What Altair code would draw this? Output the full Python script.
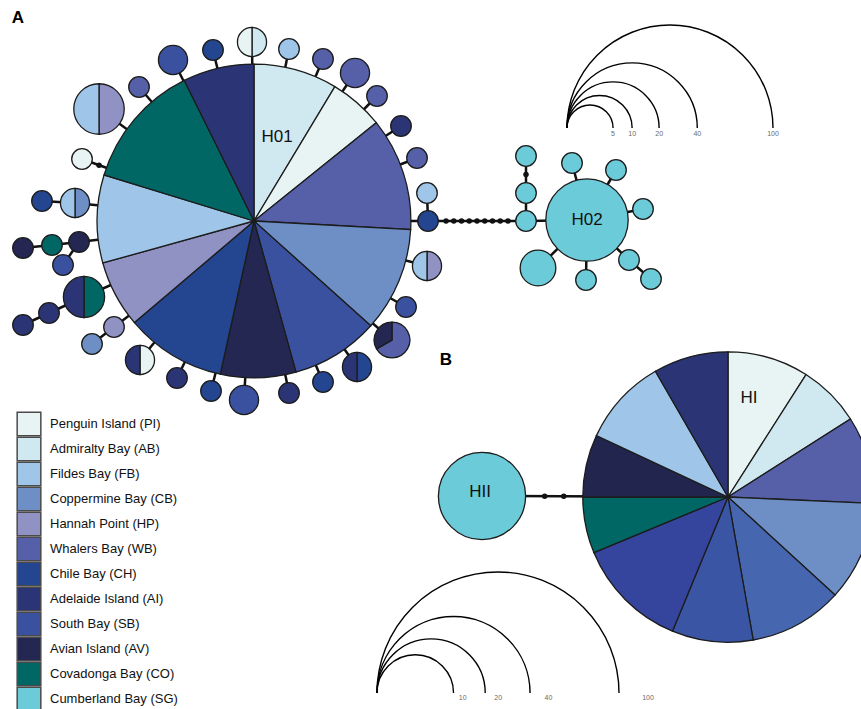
import math
import altair as alt
import pandas as pd

W, H = 861, 709

# ---------------- populations / legend ----------------
POP_CODES = ["PI", "AB", "FB", "CB", "HP", "WB", "CH", "AI", "SB", "AV", "CO", "SG"]
POP_NAMES = ["Penguin Island (PI)", "Admiralty Bay (AB)", "Fildes Bay (FB)",
             "Coppermine Bay (CB)", "Hannah Point (HP)", "Whalers Bay (WB)",
             "Chile Bay (CH)", "Adelaide Island (AI)", "South Bay (SB)",
             "Avian Island (AV)", "Covadonga Bay (CO)", "Cumberland Bay (SG)"]
POP_COLORS = ["#e8f4f4", "#d0e8ef", "#9fc5e8", "#6d8fc6", "#9192c4", "#5560a8",
              "#24458f", "#2b3575", "#3a51a0", "#232752", "#006765", "#6ccbd8"]

# ---------------- panel A haplotypes (composition in individuals) ----------------
A_IDS = ["H01", "n1", "n2", "n3", "n4", "n5", "n6", "n7", "n8", "n9", "n10",
         "n11", "n12", "n13", "n14", "n15", "n16", "n17", "n18", "n19", "n20",
         "n21", "n22", "n23", "n24", "n25", "n26", "n27", "n28", "n29", "n30",
         "n31", "n32", "n33", "n34", "n35",
         "H02", "s1", "s2", "s3", "s4", "s5", "s6", "s7", "s8", "s9", "s10"]
A_COMP = [
    [("AB", 20), ("PI", 13), ("WB", 27), ("CB", 25), ("SB", 21), ("AV", 18),
     ("CH", 24), ("HP", 16), ("FB", 21), ("CO", 30), ("AI", 17)],
    [("AB", 1), ("PI", 1)], [("FB", 1)], [("WB", 1)], [("WB", 2)], [("WB", 1)],
    [("AI", 1)], [("WB", 1)], [("FB", 1)], [("CH", 1)], [("HP", 1), ("FB", 1)],
    [("SB", 1)], [("WB", 2), ("AV", 1)], [("CH", 1), ("AI", 1)], [("CH", 1)],
    [("AI", 1)], [("SB", 2)], [("CH", 1)], [("AI", 1)], [("PI", 1), ("AI", 1)],
    [("HP", 1)], [("CB", 1)], [("CO", 2), ("AI", 2)], [("AI", 1)], [("AI", 1)],
    [("AV", 1)], [("CO", 1)], [("AV", 1)], [("SB", 1)], [("CB", 1), ("FB", 1)],
    [("CH", 1)], [("PI", 1)], [("HP", 3), ("FB", 3)], [("WB", 1)], [("SB", 2)],
    [("CH", 1)],
    [("SG", 16)], [("SG", 1)], [("SG", 1)], [("SG", 1)], [("SG", 1)], [("SG", 1)],
    [("SG", 1)], [("SG", 1)], [("SG", 1)], [("SG", 1)], [("SG", 3)],
]
# network layout (pixel positions of haplotype centres)
A_X = [254, 252, 289, 323, 355, 377, 401, 417, 427, 428, 427,
       406, 392, 357, 323, 289, 244, 211, 177, 140, 114,
       92, 84, 49, 23, 79, 52, 23, 63, 75, 42,
       82, 99, 139, 173, 213,
       587, 526, 526, 526, 572, 616, 643, 629, 651, 586, 538]
A_Y = [221, 42, 49, 59, 73, 96, 126, 158, 193, 221, 266,
       307, 340, 367, 382, 393, 400, 391, 378, 360, 327,
       344, 297, 313, 325, 242, 245, 248, 265, 203, 201,
       159, 109, 87, 60, 50,
       220, 221, 193, 156, 163, 170, 209, 260, 279, 280, 268]

A_EDGE_FROM = ["n1", "n2", "n3", "n4", "n5", "n6", "n7", "n8", "n9", "n10",
               "n11", "n12", "n13", "n14", "n15", "n16", "n17", "n18", "n19", "n20",
               "n21", "n22", "n23", "n24", "n25", "n26", "n27", "n28", "n29", "n30",
               "n31", "n32", "n33", "n34", "n35", "n9",
               "s1", "s2", "s3", "s4", "s5", "s6", "s7", "s8", "s9", "s10"]
A_EDGE_TO = ["H01", "H01", "H01", "H01", "H01", "H01", "H01", "n9", "H01", "H01",
             "H01", "H01", "H01", "H01", "H01", "H01", "H01", "H01", "H01", "H01",
             "n20", "H01", "n22", "n23", "H01", "n25", "n26", "n25", "H01", "n29",
             "H01", "H01", "H01", "H01", "H01", "s1",
             "H02", "s1", "s2", "H02", "H02", "H02", "H02", "s7", "H02", "H02"]
A_EDGE_STEPS = [0, 0, 0, 0, 0, 0, 0, 0, 0, 0,
                0, 0, 0, 0, 0, 0, 0, 0, 0, 0,
                0, 0, 0, 0, 0, 0, 0, 0, 0, 0,
                1, 0, 0, 0, 0, 9,
                0, 0, 1, 0, 0, 0, 0, 0, 0, 0]

# ---------------- panel B haplotypes ----------------
B_CODES = ["PI", "AB", "WB", "CB", "SB", "CH", "HP", "CO", "AV", "FB", "AI", "SG"]
B_COLORS = ["#e8f4f4", "#d0e8ef", "#5560a8", "#6d8fc6", "#4766b0", "#3a55a3",
            "#35449c", "#006765", "#22264e", "#9fc5e8", "#2b3575", "#6ccbd8"]
B_IDS = ["HI", "HII"]
B_COMP = [
    [("PI", 13), ("AB", 10), ("WB", 14), ("CB", 16), ("SB", 15), ("CH", 13),
     ("HP", 18), ("CO", 9), ("AV", 10), ("FB", 14), ("AI", 12)],
    [("SG", 13)],
]
B_X = [728, 482]
B_Y = [497, 496]
B_EDGE_FROM = ["HII"]
B_EDGE_TO = ["HI"]
B_EDGE_STEPS = [2]

# circle-size keys
A_KEY = [5, 10, 20, 40, 100]
B_KEY = [10, 20, 40, 100]

# size scales: radius (px) for 100 individuals
RA, RB = 103, 121


def rad(total, rmax):
    return rmax * math.sqrt(total / 100.0)


def slices(ids, xs, ys, comps, names=None):
    rows = []
    for nid, x, y, comp in zip(ids, xs, ys, comps):
        total = sum(c for _, c in comp)
        acc = 0
        for code, c in comp:
            t0 = 2 * math.pi * acc / total
            acc += c
            t1 = 2 * math.pi * acc / total
            rows.append(dict(id=nid, x=x, y=y, total=total, code=code,
                             name=names[code] if names else code, t0=t0, t1=t1))
    return pd.DataFrame(rows)


def edges(ids, xs, ys, comps, efrom, eto, steps, rmax):
    pos = {i: (x, y, sum(c for _, c in comp)) for i, x, y, comp in zip(ids, xs, ys, comps)}
    erows, drows = [], []
    for a, b, n in zip(efrom, eto, steps):
        xa, ya, ta = pos[a]
        xb, yb, tb = pos[b]
        erows.append(dict(x1=xa, y1=ya, x2=xb, y2=yb))
        if n:
            d = math.hypot(xb - xa, yb - ya)
            ux, uy = (xb - xa) / d, (yb - ya) / d
            s0, s1 = rad(ta, rmax), d - rad(tb, rmax)
            for k in range(1, n + 1):
                s = s0 + (s1 - s0) * k / (n + 1)
                drows.append(dict(x=xa + ux * s, y=ya + uy * s))
    return pd.DataFrame(erows), pd.DataFrame(drows)


name_of = dict(zip(POP_CODES, POP_NAMES))
a_sl = slices(A_IDS, A_X, A_Y, A_COMP, name_of)
b_sl = slices(B_IDS, B_X, B_Y, B_COMP)
a_ed, a_dots = edges(A_IDS, A_X, A_Y, A_COMP, A_EDGE_FROM, A_EDGE_TO, A_EDGE_STEPS, RA)
b_ed, b_dots = edges(B_IDS, B_X, B_Y, B_COMP, B_EDGE_FROM, B_EDGE_TO, B_EDGE_STEPS, RB)
ed = pd.concat([a_ed, b_ed], ignore_index=True)
dots = pd.concat([a_dots, b_dots], ignore_index=True)

a_key = pd.DataFrame(dict(n=A_KEY))
a_key["cx"] = 567 + a_key.n.map(lambda v: rad(v, RA))
a_key["cy"] = 128
a_key["lx"] = 567 + 2 * a_key.n.map(lambda v: rad(v, RA))
a_key["ly"] = 134
b_key = pd.DataFrame(dict(n=B_KEY))
b_key["cx"] = 377 + b_key.n.map(lambda v: rad(v, RB))
b_key["cy"] = 693
b_key["lx"] = 377 + 2.24 * b_key.n.map(lambda v: rad(v, RB))
b_key["ly"] = 698
for k in (a_key, b_key):
    k["t0"] = 1.5 * math.pi
    k["t1"] = 2.5 * math.pi
    k["lab"] = k.n.astype(str)

# legend rows (drawn with the same colour scale)
leg = pd.DataFrame(dict(name=POP_NAMES))
leg["i"] = range(len(leg))
leg["sx"] = 29
leg["tx"] = 50
leg["y"] = 424 + 25 * leg["i"]

labels = pd.DataFrame(dict(
    txt=["H01", "H02", "HI", "HII"],
    x=[277, 587, 749, 480],
    y=[137, 220, 398, 492],
))
panels = pd.DataFrame(dict(txt=["A", "B"], x=[18, 446], y=[18, 360]))

xs = alt.Scale(domain=[0, W], nice=False, zero=False)
ys = alt.Scale(domain=[0, H], nice=False, zero=False, reverse=True)


def X(f):
    return alt.X(f, type="quantitative", scale=xs, axis=None)


def Y(f):
    return alt.Y(f, type="quantitative", scale=ys, axis=None)


FONT = "Liberation Sans"
pop_scale = alt.Scale(domain=POP_NAMES, range=POP_COLORS)

edge_layer = alt.Chart(ed).mark_rule(color="#111111", strokeWidth=2.5).encode(
    x=X("x1"), y=Y("y1"), x2="x2:Q", y2="y2:Q")

dot_layer = alt.Chart(dots).mark_circle(color="#111111", size=30, opacity=1).encode(
    x=X("x"), y=Y("y"))

a_arcs = alt.Chart(a_sl).mark_arc(stroke="#1c1c1c", strokeWidth=1.3).encode(
    x=X("x"), y=Y("y"),
    theta=alt.Theta("t0:Q", scale=None, stack=False), theta2="t1:Q",
    radius=alt.Radius("total:Q", scale=alt.Scale(type="sqrt", domain=[0, 100], range=[0, RA])),
    color=alt.Color("name:N", scale=pop_scale, legend=None),
)

b_arcs = alt.Chart(b_sl).mark_arc(stroke="#1c1c1c", strokeWidth=1.3).encode(
    x=X("x"), y=Y("y"),
    theta=alt.Theta("t0:Q", scale=None, stack=False), theta2="t1:Q",
    radius=alt.Radius("total:Q", scale=alt.Scale(type="sqrt", domain=[0, 100], range=[0, RB])),
    color=alt.Color("code:N", scale=alt.Scale(domain=B_CODES, range=B_COLORS), legend=None),
)

leg_sq = alt.Chart(leg).mark_square(size=560, opacity=1, stroke="#4a4a4a",
                                    strokeWidth=1.5).encode(
    x=X("sx"), y=Y("y"),
    color=alt.Color("name:N", scale=pop_scale, legend=None),
)
leg_txt = alt.Chart(leg).mark_text(fontSize=13, font=FONT, color="#111111",
                                   align="left", baseline="middle").encode(
    x=X("tx"), y=Y("y"), text="name:N")


def key_layer(df, rmax):
    sc = alt.Scale(type="sqrt", domain=[0, 100], range=[0, rmax])
    arcs = alt.Chart(df).mark_arc(filled=False, color="#000000", strokeWidth=1.4).encode(
        x=X("cx"), y=Y("cy"),
        theta=alt.Theta("t0:Q", scale=None, stack=False), theta2="t1:Q",
        radius=alt.Radius("n:Q", scale=sc), radius2="n:Q")
    txt = alt.Chart(df).mark_text(fontSize=7, color="#6a6a6a", font=FONT,
                                  baseline="middle", align="center").encode(
        x=X("lx"), y=Y("ly"), text="lab:N")
    return arcs, txt


ak_arcs, ak_txt = key_layer(a_key, RA)
bk_arcs, bk_txt = key_layer(b_key, RB)

lab_layer = alt.Chart(labels).mark_text(fontSize=17, font=FONT, color="#111111",
                                        baseline="middle", align="center").encode(
    x=X("x"), y=Y("y"), text="txt:N")
panel_layer = alt.Chart(panels).mark_text(fontSize=17, font=FONT, fontWeight="bold",
                                          color="#000000", baseline="middle",
                                          align="center").encode(
    x=X("x"), y=Y("y"), text="txt:N")

chart = alt.layer(
    edge_layer, dot_layer, a_arcs, b_arcs, ak_arcs, bk_arcs,
    ak_txt, bk_txt, leg_sq, leg_txt, lab_layer, panel_layer,
).resolve_scale(color="independent", radius="independent").properties(
    width=W, height=H, autosize="none", padding=0,
).configure_view(stroke=None)

chart.save("out.html", embed_options={"renderer": "svg", "actions": False})
